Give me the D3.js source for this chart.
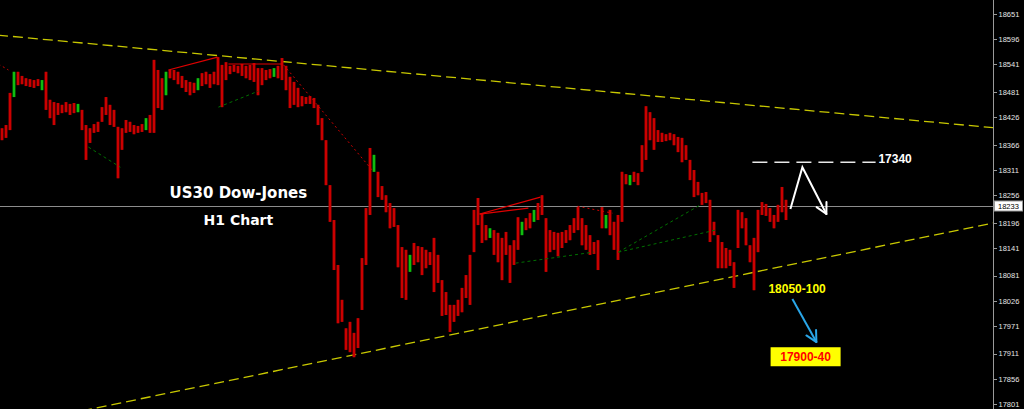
<!DOCTYPE html>
<meta charset="utf-8">
<style>
body { margin: 0; background: #000; }
svg { display: block; background: #000; }
.axis path, .axis line { stroke: #9a9a9a; shape-rendering: crispEdges; }
.axis text { fill: #e6e6e6; font: 7.5px "Liberation Sans", Arial, sans-serif; }
.channel { fill: none; stroke: #c8c800; stroke-width: 1.3; stroke-dasharray: 10,5; }
.lbl { font-family: "Liberation Sans", Arial, sans-serif; font-weight: bold; font-size: 12px; }
.title { font-family: "DejaVu Sans", sans-serif; font-weight: bold; fill: #fff; text-anchor: middle; }
</style>
<svg width="1024" height="409"></svg>
<script src="https://d3js.org/d3.v7.min.js"></script>
<script>

// H1 bars, high / low per bar
var highs = [18402,18409,18479,18525,18525,18516,18511,18509,18507,18509,
  18507,18525,18464,18459,18457,18453,18459,18455,18457,18455,
  18442,18409,18402,18411,18416,18448,18470,18453,18442,18405,
  18402,18420,18416,18409,18407,18411,18424,18431,18551,18529,
  18511,18525,18529,18529,18525,18516,18507,18503,18501,18511,
  18522,18525,18520,18525,18557,18540,18546,18538,18540,18538,
  18542,18538,18540,18544,18533,18533,18529,18531,18533,18538,
  18555,18538,18514,18503,18490,18472,18470,18472,18468,18453,
  18424,18376,18278,18202,18104,18028,17966,17980,17956,17988,
  18119,18228,18359,18344,18307,18276,18256,18239,18228,18191,
  18143,18137,18126,18152,18145,18143,18137,18132,18163,18126,
  18071,18045,18017,18017,18028,18054,18082,18126,18224,18250,
  18217,18191,18184,18180,18174,18163,18176,18147,18158,18208,
  18198,18206,18217,18224,18239,18256,18206,18180,18176,18174,
  18176,18180,18191,18206,18230,18206,18191,18169,18154,18158,
  18230,18213,18224,18198,18213,18307,18302,18300,18307,18304,
  18365,18450,18437,18424,18398,18392,18389,18392,18389,18383,
  18381,18365,18333,18311,18285,18261,18263,18246,18198,18169,
  18154,18141,18137,18110,18224,18219,18206,18147,18163,18224,
  18241,18237,18228,18213,18235,18274,18246];

var lows = [18376,18381,18398,18470,18496,18498,18494,18492,18490,18494,
  18485,18442,18424,18409,18431,18435,18437,18431,18435,18437,
  18398,18333,18370,18392,18394,18416,18431,18409,18405,18293,
  18355,18392,18394,18389,18392,18394,18398,18392,18392,18446,
  18442,18474,18511,18507,18498,18490,18481,18474,18479,18485,
  18494,18498,18490,18498,18496,18448,18507,18520,18525,18522,
  18516,18511,18507,18503,18474,18496,18507,18511,18514,18511,
  18507,18485,18446,18453,18448,18450,18455,18455,18446,18409,
  18376,18278,18198,18093,17977,17980,17919,17914,17903,17923,
  18006,18104,18213,18307,18252,18246,18219,18184,18187,18099,
  18032,18028,18089,18104,18110,18082,18097,18104,18045,18065,
  17993,17995,17958,17980,17993,18001,18032,18017,18132,18191,
  18152,18158,18163,18126,18110,18071,18126,18065,18104,18137,
  18169,18180,18184,18198,18202,18213,18089,18132,18137,18123,
  18141,18152,18158,18174,18180,18147,18137,18126,18128,18093,
  18184,18184,18169,18137,18115,18198,18280,18278,18285,18278,
  18307,18333,18376,18355,18372,18372,18374,18376,18365,18350,
  18328,18333,18289,18252,18256,18235,18239,18154,18169,18097,
  18097,18097,18102,18054,18141,18184,18147,18110,18049,18132,
  18213,18211,18198,18184,18198,18219,18202];

var greenBars = [3, 10, 19, 36, 41, 49, 68, 93, 102, 122, 130, 133, 151, 157];

var priceTicks = [18651,18596,18541,18481,18426,18366,18311,18256,18196,
  18141,18081,18026,17971,17911,17856,17801];
var lastPrice = 18233;

// lines drawn on the chart: [bar index, price]
var channelTop = [[-1, 18605], [248, 18403]];
var channelBottom = [[20, 17786], [248, 18196]];
var redSolid = [
  [[41.6, 18529], [53.9, 18557]],
  [[56.6, 18542], [70.1, 18542]],
  [[119.4, 18215], [134.6, 18252]],
  [[119.4, 18215], [131.6, 18228]]
];
var redDotted = [
  [[-3, 18553], [1.6, 18529]],
  [[70.4, 18540], [92.9, 18307]],
  [[143.9, 18232], [152.6, 18217]]
];
var greenDotted = [
  [[21.6, 18361], [29.6, 18317]],
  [[54.1, 18448], [64.1, 18483]],
  [[128.4, 18108], [147.9, 18132]],
  [[154.1, 18132], [174.6, 18235]],
  [[154.1, 18132], [178.4, 18180]]
];
var resistance = [[187.6, 18328], [218.4, 18328]];
var whitePath = [[197.1, 18226], [200.1, 18317], [206.1, 18215]];
var bluePath = [[197.6, 18030], [203.6, 17936]];

var svg = d3.select("svg"),
    width = +svg.attr("width"),
    height = +svg.attr("height"),
    plotRight = 993;

var x = d3.scaleLinear().domain([0, highs.length - 1]).range([2, 786]);
var y = d3.scaleLinear().domain([17801, 18651]).range([404, 14]);

svg.append("defs").append("clipPath").attr("id", "plot")
  .append("rect").attr("width", plotRight).attr("height", height);

var plot = svg.append("g").attr("clip-path", "url(#plot)");

var line = d3.line().x(function(d) { return x(d[0]); }).y(function(d) { return y(d[1]); });

// last price line
plot.append("line")
  .attr("x1", 0).attr("x2", plotRight)
  .attr("y1", Math.round(y(lastPrice)) + 0.5).attr("y2", Math.round(y(lastPrice)) + 0.5)
  .attr("stroke", "#8c8c8c").attr("stroke-width", 1);

// channel
plot.selectAll(".channel").data([channelTop, channelBottom]).enter()
  .append("path").attr("class", "channel").attr("d", line);

// bars
function isGreen(i) { return greenBars.indexOf(i) >= 0; }
var bars = plot.append("g").selectAll("g").data(highs).enter().append("g");
bars.append("rect")
  .attr("x", function(d, i) { return x(i) - 1.5; })
  .attr("width", 3)
  .attr("y", function(d) { return y(d); })
  .attr("height", function(d, i) { return Math.max(1, y(lows[i]) - y(d)); })
  .attr("fill", function(d, i) { return isGreen(i) ? "#009a00" : "#a80000"; });
bars.append("rect")
  .attr("x", function(d, i) { return x(i) - 0.5; })
  .attr("width", 1)
  .attr("y", function(d) { return y(d); })
  .attr("height", function(d, i) { return Math.max(1, y(lows[i]) - y(d)); })
  .attr("fill", function(d, i) { return isGreen(i) ? "#22dd22" : "#ee0000"; });

plot.selectAll(".rs").data(redSolid).enter().append("path")
  .attr("d", line).attr("fill", "none").attr("stroke", "#e00000").attr("stroke-width", 1.2);
plot.selectAll(".rd").data(redDotted).enter().append("path")
  .attr("d", line).attr("fill", "none").attr("stroke", "#cc0000")
  .attr("stroke-width", 1).attr("stroke-dasharray", "2,3");
plot.selectAll(".gd").data(greenDotted).enter().append("path")
  .attr("d", line).attr("fill", "none").attr("stroke", "#007000")
  .attr("stroke-width", 1).attr("stroke-dasharray", "3,3");

// annotations
function arrowHead(g, pts, color) {
  var a = pts[pts.length - 2], b = pts[pts.length - 1];
  var ax = x(a[0]), ay = y(a[1]), bx = x(b[0]), by = y(b[1]);
  var ang = Math.atan2(ay - by, ax - bx), len = 12, spread = 0.48;
  [ang - spread, ang + spread].forEach(function(t) {
    g.append("line").attr("x1", bx).attr("y1", by)
      .attr("x2", bx + len * Math.cos(t)).attr("y2", by + len * Math.sin(t))
      .attr("stroke", color).attr("stroke-width", 2).attr("stroke-linecap", "round");
  });
}

var ann = svg.append("g");
ann.append("path").datum(resistance).attr("d", line).attr("fill", "none")
  .attr("stroke", "#e8e8e8").attr("stroke-width", 1.5).attr("stroke-dasharray", "15,7");
ann.append("path").datum(whitePath).attr("d", line).attr("fill", "none")
  .attr("stroke", "#fff").attr("stroke-width", 2).attr("stroke-linejoin", "miter");
arrowHead(ann, whitePath, "#fff");
ann.append("path").datum(bluePath).attr("d", line).attr("fill", "none")
  .attr("stroke", "#2aa6e8").attr("stroke-width", 2);
arrowHead(ann, bluePath, "#2aa6e8");

ann.append("text").attr("class", "lbl").attr("fill", "#fff")
  .attr("x", x(219.1)).attr("y", y(18326)).text("17340");
ann.append("text").attr("class", "lbl").attr("fill", "#ffff00")
  .attr("x", x(191.6)).attr("y", y(18043)).text("18050-100");

var boxX = x(200.9), boxY = y(17904);
ann.append("rect").attr("x", boxX - 35).attr("y", boxY - 9.5)
  .attr("width", 70).attr("height", 19).attr("fill", "#ffff00");
ann.append("text").attr("class", "lbl").attr("fill", "#ff0000")
  .attr("text-anchor", "middle").attr("x", boxX).attr("y", boxY + 4.5).text("17900-40");

ann.append("text").attr("class", "title").attr("font-size", 15)
  .attr("x", x(59.1)).attr("y", y(18250)).text("US30 Dow-Jones");
ann.append("text").attr("class", "title").attr("font-size", 14)
  .attr("x", x(59.1)).attr("y", y(18191)).text("H1 Chart");

// price axis
var axis = svg.append("g").attr("class", "axis")
  .attr("transform", "translate(" + (plotRight + 0.5) + ",0)")
  .call(d3.axisRight(y).tickValues(priceTicks).tickSize(3).tickPadding(2).tickSizeOuter(0)
    .tickFormat(d3.format("d")));
axis.select(".domain").attr("d", "M0,0V" + height);

// last price box
var lp = svg.append("g").attr("transform", "translate(" + (plotRight + 1) + "," + Math.round(y(lastPrice)) + ")");
lp.append("rect").attr("x", 0.5).attr("y", -5).attr("width", 28).attr("height", 10)
  .attr("fill", "#fff").attr("stroke", "#9a9a9a");
lp.append("text").attr("x", 4).attr("y", 2.5)
  .attr("font-family", "Liberation Sans, Arial, sans-serif").attr("font-size", 7.5)
  .attr("fill", "#000").text(lastPrice);

</script>
